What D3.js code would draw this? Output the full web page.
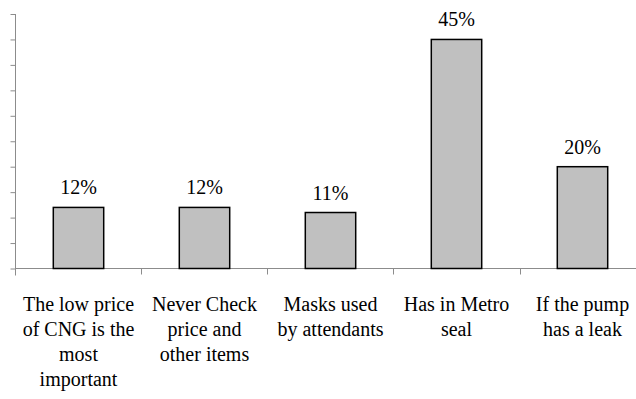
<!DOCTYPE html>
<html>
<head>
<meta charset="utf-8">
<script src="https://cdn.jsdelivr.net/npm/d3@7"></script>
</head>
<body style="margin:0">
<svg id="chart" width="636" height="399"></svg>
<script>
// Survey responses: share of respondents per criterion
const categories = [
  "The low price of CNG is the most important",
  "Never Check price and other items",
  "Masks used by attendants",
  "Has in Metro seal",
  "If the pump has a leak"
];
// Wrapped label lines for each category
const categoryLines = [
  ["The low price", "of CNG is the", "most", "important"],
  ["Never Check", "price and", "other items"],
  ["Masks used", "by attendants"],
  ["Has in Metro", "seal"],
  ["If the pump", "has a leak"]
];
const values = [12, 12, 11, 45, 20];
const yTicks = [0, 5, 10, 15, 20, 25, 30, 35, 40, 45, 50];

const svg = d3.select("#chart");
const plotLeft = 15.5, plotBottom = 268.5, plotTop = 14, plotRight = 645.5;
const fontFamily = "Liberation Serif";

const x = d3.scaleBand()
  .domain(categories)
  .range([plotLeft, plotRight])
  .paddingInner(0.6)
  .paddingOuter(0.3);

const y = d3.scaleLinear().domain([0, 50]).range([plotBottom, plotTop]);

const axisColor = "#8c8c8c";

// Value axis: line with tick marks, no labels
const yAxis = svg.append("g")
  .attr("transform", `translate(${plotLeft},0)`)
  .call(d3.axisLeft(y).tickValues(yTicks).tickSize(5).tickFormat(""));
yAxis.attr("font-family", fontFamily).attr("font-size", null);
yAxis.select(".domain").remove();
yAxis.selectAll(".tick text").remove();
yAxis.selectAll(".tick line").attr("stroke", axisColor);
svg.append("line")
  .attr("x1", plotLeft).attr("x2", plotLeft)
  .attr("y1", y(50)).attr("y2", plotBottom + 7)
  .attr("stroke", axisColor);

// Category axis: baseline with ticks at category boundaries
svg.append("line")
  .attr("x1", plotLeft).attr("x2", plotRight)
  .attr("y1", plotBottom).attr("y2", plotBottom)
  .attr("stroke", axisColor);
const boundaries = categories.slice(1).map(c => Math.round(x(c) - x.step() * x.paddingInner() / 2) + 0.5);
svg.selectAll(".xtick").data(boundaries).join("line")
  .attr("class", "xtick")
  .attr("x1", d => d).attr("x2", d => d)
  .attr("y1", plotBottom).attr("y2", plotBottom + 6)
  .attr("stroke", axisColor);

// Bars
svg.selectAll(".bar").data(values).join("rect")
  .attr("class", "bar")
  .attr("x", (d, i) => x(categories[i]))
  .attr("y", d => y(d))
  .attr("width", x.bandwidth())
  .attr("height", d => plotBottom - y(d))
  .attr("fill", "#c0c0c0")
  .attr("stroke", "#000")
  .attr("stroke-width", 1.5);

// Value labels
svg.selectAll(".val").data(values).join("text")
  .attr("class", "val")
  .attr("x", (d, i) => x(categories[i]) + x.bandwidth() / 2)
  .attr("y", d => y(d) - 13)
  .attr("text-anchor", "middle")
  .attr("font-family", fontFamily)
  .attr("font-size", 20)
  .attr("fill", "#000")
  .text(d => d + "%");

// Category labels, one text element per line
const labelRows = categoryLines.flatMap((lines, i) =>
  lines.map((line, j) => ({ cat: categories[i], line, row: j })));
svg.selectAll(".cat").data(labelRows).join("text")
  .attr("class", "cat")
  .attr("text-anchor", "middle")
  .attr("font-family", fontFamily)
  .attr("font-size", 20)
  .attr("fill", "#000")
  .attr("x", d => x(d.cat) + x.bandwidth() / 2)
  .attr("y", d => 311 + d.row * 25)
  .text(d => d.line);
</script>
</body>
</html>
